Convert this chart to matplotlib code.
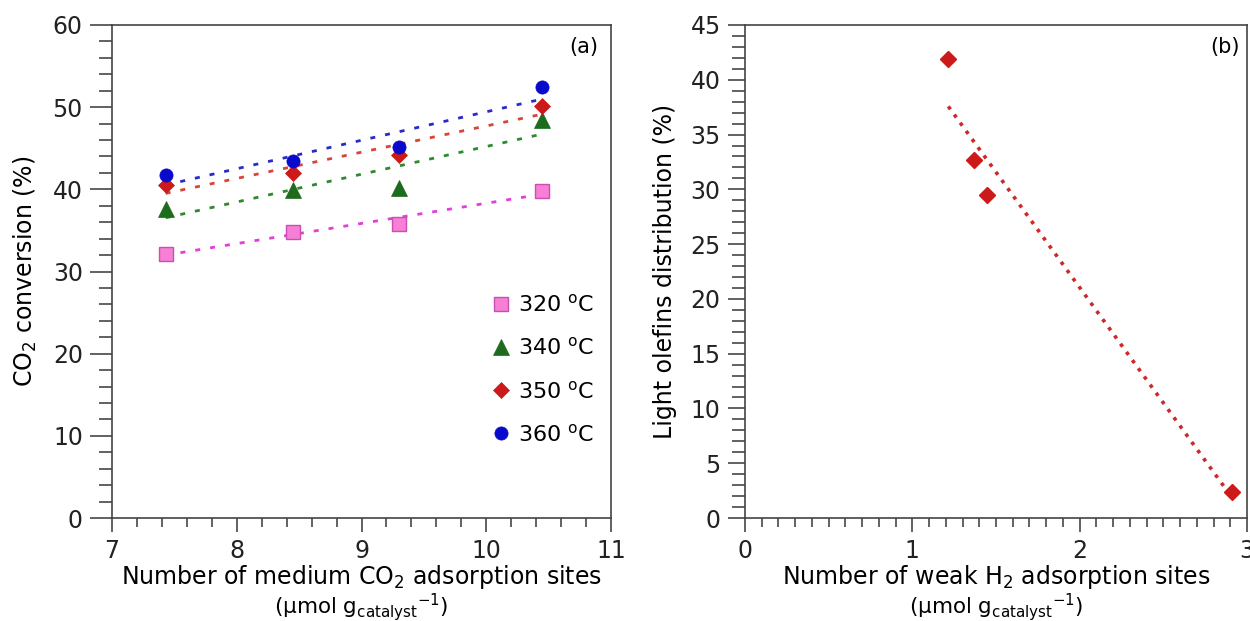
import numpy as np
import matplotlib
matplotlib.use("Agg")
import matplotlib.pyplot as plt
from matplotlib.ticker import MultipleLocator

plt.rcParams['font.family'] = ['DejaVu Sans']
plt.rcParams['mathtext.fontset'] = 'dejavusans'

# ---- data: panel (a)
co2_sites = [7.43, 8.45, 9.30, 10.45]
temps = ["320", "340", "350", "360"]
conv_320 = [32.1, 34.8, 35.8, 39.8]
conv_340 = [37.6, 39.9, 40.2, 48.4]
conv_350 = [40.5, 42.0, 44.2, 50.2]
conv_360 = [41.7, 43.4, 45.1, 52.4]

# ---- data: panel (b)
h2_sites = [1.215, 1.366, 1.445, 2.913]
olefins = [41.9, 32.7, 29.5, 2.4]

W, H = 1250, 621
fig = plt.figure(figsize=(W / 100, H / 100), dpi=100)

def px_axes(l, t, r, b):
    return fig.add_axes([l / W, 1 - b / H, (r - l) / W, (b - t) / H])

axa = px_axes(112, 25, 611, 518)
axb = px_axes(745, 25, 1247, 518)

spine_c = '#444444'
tick_c = '#555555'
FS = 17
for ax in (axa, axb):
    for s in ax.spines.values():
        s.set_color(spine_c)
        s.set_linewidth(1.2)
    ax.tick_params(axis='both', which='both', direction='out', color=tick_c,
                   labelsize=FS, labelcolor='#222222', width=1.3)
    ax.tick_params(axis='x', which='major', length=10, pad=5)
    ax.tick_params(axis='x', which='minor', length=6.5)

axa.tick_params(axis='y', which='major', length=16, pad=5)
axa.tick_params(axis='y', which='minor', length=9.5)
axb.tick_params(axis='y', which='major', length=12.5, pad=5)
axb.tick_params(axis='y', which='minor', length=9.5)

unit_label = r"(μmol g$_{\mathrm{catalyst}}$$^{\mathrm{-1}}$)"

# ---- panel (a)
series = [conv_320, conv_340, conv_350, conv_360]
marker_styles = [
    dict(marker='s', ms=9.5, mfc='#f77fd6', mec='#c94fb2', mew=1.0),
    dict(marker='^', ms=11, mfc='#1e6b1e', mec='#1e6b1e', mew=0.5),
    dict(marker='D', ms=8, mfc='#cc1a1a', mec='#cc1a1a', mew=0.5),
    dict(marker='o', ms=9.5, mfc='#0a0acc', mec='#0a0acc', mew=0.5),
]
line_colors = ['#e23fd6', '#2f8a2f', '#d9443a', '#2a2acc']
xs = np.array(co2_sites)
for vals, t, ms, lc in zip(series, temps, marker_styles, line_colors):
    k, b0 = np.polyfit(xs, vals, 1)
    axa.plot([xs[0], xs[-1]], [k * xs[0] + b0, k * xs[-1] + b0],
             color=lc, lw=2.0, linestyle=(0, (1.8, 3.6)), zorder=2)
    axa.plot(xs, vals, linestyle='none', label=t + r" $^{\mathrm{o}}$C",
             zorder=3, **ms)

axa.set_xlim(7, 11)
axa.set_ylim(0, 60)
axa.xaxis.set_major_locator(MultipleLocator(1))
axa.xaxis.set_minor_locator(MultipleLocator(0.2))
axa.yaxis.set_major_locator(MultipleLocator(10))
axa.yaxis.set_minor_locator(MultipleLocator(2))
axa.set_ylabel(r"CO$_2$ conversion (%)", fontsize=FS, labelpad=10)
axa.set_xlabel("Number of medium CO$_2$ adsorption sites",
               fontsize=FS, labelpad=0)
axa.text(0.975, 0.975, "(a)", transform=axa.transAxes, ha='right', va='top',
         fontsize=15)
axa.legend(loc='lower right', bbox_to_anchor=(0.985, 0.13), frameon=False,
           fontsize=16, labelspacing=0.95, handlelength=1.0, handletextpad=0.3,
           borderaxespad=0)

# ---- panel (b)
hx = np.array(h2_sites)
k, b0 = np.polyfit(hx, olefins, 1)
axb.plot([hx[0], hx[-1]], [k * hx[0] + b0, k * hx[-1] + b0],
         color='#cc2a2a', lw=2.6, linestyle=(0, (1, 1.8)), zorder=2)
axb.plot(hx, olefins, linestyle='none', marker='D', ms=8.5, mfc='#cc1a1a',
         mec='#cc1a1a', zorder=3)
axb.set_xlim(0, 3)
axb.set_ylim(0, 45)
axb.xaxis.set_major_locator(MultipleLocator(1))
axb.xaxis.set_minor_locator(MultipleLocator(0.1))
axb.yaxis.set_major_locator(MultipleLocator(5))
axb.yaxis.set_minor_locator(MultipleLocator(1))
axb.set_ylabel("Light olefins distribution (%)", fontsize=FS, labelpad=10)
axb.set_xlabel("Number of weak H$_2$ adsorption sites",
               fontsize=FS, labelpad=0)
axb.text(0.985, 0.975, "(b)", transform=axb.transAxes, ha='right', va='top',
         fontsize=15)

# second line of the x-axis titles
for ax in (axa, axb):
    pos = ax.get_position()
    fig.text((pos.x0 + pos.x1) / 2, 7 / H, unit_label, ha='center',
             va='baseline', fontsize=15.5)

fig.savefig("out.png", dpi=100)
